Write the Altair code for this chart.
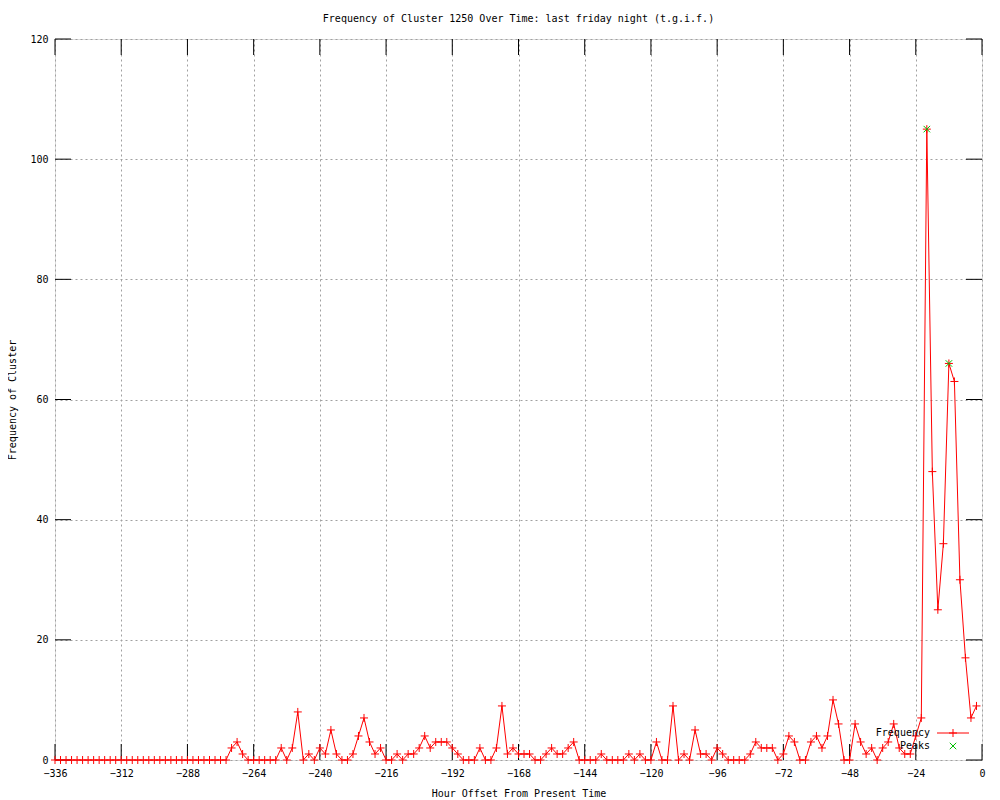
import altair as alt
import pandas as pd

# ---- data ----
hours = [
    -336, -334, -332, -330, -328, -326, -324, -322, -320, -318, -316, -314,
    -312, -310, -308, -306, -304, -302, -300, -298, -296, -294, -292, -290,
    -288, -286, -284, -282, -280, -278, -276, -274, -272, -270, -268, -266,
    -264, -262, -260, -258, -256, -254, -252, -250, -248, -246, -244, -242,
    -240, -238, -236, -234, -232, -230, -228, -226, -224, -222, -220, -218,
    -216, -214, -212, -210, -208, -206, -204, -202, -200, -198, -196, -194,
    -192, -190, -188, -186, -184, -182, -180, -178, -176, -174, -172, -170,
    -168, -166, -164, -162, -160, -158, -156, -154, -152, -150, -148, -146,
    -144, -142, -140, -138, -136, -134, -132, -130, -128, -126, -124, -122,
    -120, -118, -116, -114, -112, -110, -108, -106, -104, -102, -100, -98,
    -96, -94, -92, -90, -88, -86, -84, -82, -80, -78, -76, -74,
    -72, -70, -68, -66, -64, -62, -60, -58, -56, -54, -52, -50,
    -48, -46, -44, -42, -40, -38, -36, -34, -32, -30, -28, -26,
    -24, -22, -20, -18, -16, -14, -12, -10, -8, -6, -4, -2,
]
frequency = [
    0, 0, 0, 0, 0, 0, 0, 0, 0, 0, 0, 0,
    0, 0, 0, 0, 0, 0, 0, 0, 0, 0, 0, 0,
    0, 0, 0, 0, 0, 0, 0, 0, 2, 3, 1, 0,
    0, 0, 0, 0, 0, 2, 0, 2, 8, 0, 1, 0,
    2, 1, 5, 1, 0, 0, 1, 4, 7, 3, 1, 2,
    0, 0, 1, 0, 1, 1, 2, 4, 2, 3, 3, 3,
    2, 1, 0, 0, 0, 2, 0, 0, 2, 9, 1, 2,
    1, 1, 1, 0, 0, 1, 2, 1, 1, 2, 3, 0,
    0, 0, 0, 1, 0, 0, 0, 0, 1, 0, 1, 0,
    0, 3, 0, 0, 9, 0, 1, 0, 5, 1, 1, 0,
    2, 1, 0, 0, 0, 0, 1, 3, 2, 2, 2, 0,
    1, 4, 3, 0, 0, 3, 4, 2, 4, 10, 6, 0,
    0, 6, 3, 1, 2, 0, 2, 3, 6, 2, 1, 1,
    4, 7, 105, 48, 25, 36, 66, 63, 30, 17, 7, 9,
]
peak_hours = [-20, -12]
peak_values = [105, 66]

x_ticks = [-336, -312, -288, -264, -240, -216, -192, -168, -144, -120, -96, -72, -48, -24, 0]
y_ticks = [0, 20, 40, 60, 80, 100, 120]

title_text = "Frequency of Cluster 1250 Over Time: last friday night (t.g.i.f.)"
x_title = "Hour Offset From Present Time"
y_title = "Frequency of Cluster"
legend_labels = ["Frequency", "Peaks"]

# ---- styling ----
FONT = "DejaVu Sans Mono"
W, H = 927, 721
TICK = 16
RED = "#ff0000"
GREEN = "#00c000"
PLUS = "M-1,0L1,0M0,-1L0,1"
XSYM = "M-1,-1L1,1M-1,1L1,-1"

df = pd.DataFrame({"hour": hours, "freq": frequency})
peaks = pd.DataFrame({"hour": peak_hours, "freq": peak_values})
xt = pd.DataFrame({"hour": x_ticks})
yt = pd.DataFrame({"freq": y_ticks})

x_scale = alt.Scale(domain=[-336, 0], nice=False, zero=False)
y_scale = alt.Scale(domain=[0, 120], nice=False, zero=False)

x_axis = alt.Axis(
    values=x_ticks, grid=True, gridColor="#a0a0a0", gridDash=[2, 3], gridWidth=1,
    ticks=False, domain=False, labelFont=FONT, labelFontSize=10, labelColor="black",
    labelPadding=8, labelFlush=False, labelOverlap=False, format="d",
    title=x_title, titleFont=FONT, titleFontSize=10, titleFontWeight="normal",
    titleColor="black", titleY=33, titleBaseline="middle",
)
y_axis = alt.Axis(
    values=y_ticks, grid=True, gridColor="#a0a0a0", gridDash=[2, 3], gridWidth=1,
    ticks=False, domain=False, labelFont=FONT, labelFontSize=10, labelColor="black",
    labelPadding=7, labelFlush=False, labelOverlap=False, format="d",
    title=y_title, titleFont=FONT, titleFontSize=10, titleFontWeight="normal",
    titleColor="black", titleX=-43, titleY=H / 2, titleAngle=270,
    titleAlign="center", titleBaseline="middle",
)

X = alt.X("hour:Q", scale=x_scale, axis=x_axis)
Y = alt.Y("freq:Q", scale=y_scale, axis=y_axis)

line = alt.Chart(df).mark_line(color=RED, strokeWidth=1).encode(x=X, y=Y)
pts = alt.Chart(df).mark_point(shape=PLUS, size=64, color=RED, filled=False,
                               strokeWidth=1, opacity=1).encode(x=X, y=Y)
pk = alt.Chart(peaks).mark_point(shape=XSYM, size=42, color=GREEN, filled=False,
                                 strokeWidth=1, opacity=1).encode(x=X, y=Y)

# inward (mirrored) tick marks
xt_bottom = alt.Chart(xt).mark_rule(color="black", strokeWidth=1).encode(
    x=X, y=alt.value(H), y2=alt.value(H - TICK))
xt_top = alt.Chart(xt).mark_rule(color="black", strokeWidth=1).encode(
    x=X, y=alt.value(0), y2=alt.value(TICK))
yt_left = alt.Chart(yt).mark_rule(color="black", strokeWidth=1).encode(
    y=Y, x=alt.value(0), x2=alt.value(TICK))
yt_right = alt.Chart(yt).mark_rule(color="black", strokeWidth=1).encode(
    y=Y, x=alt.value(W), x2=alt.value(W - TICK))

# legend (gnuplot style: label on the left, sample on the right)
leg = pd.DataFrame({"label": legend_labels})
LX, LY1, LY2 = 875, 694, 707
leg_text1 = alt.Chart(leg.iloc[[0]]).mark_text(
    align="right", baseline="middle", font=FONT, fontSize=10, color="black"
).encode(text="label:N", x=alt.value(LX), y=alt.value(LY1))
leg_text2 = alt.Chart(leg.iloc[[1]]).mark_text(
    align="right", baseline="middle", font=FONT, fontSize=10, color="black"
).encode(text="label:N", x=alt.value(LX), y=alt.value(LY2))
leg_line = alt.Chart(leg.iloc[[0]]).mark_rule(color=RED, strokeWidth=1).encode(
    x=alt.value(882), x2=alt.value(914), y=alt.value(LY1))
leg_pt = alt.Chart(leg.iloc[[0]]).mark_point(
    shape=PLUS, size=64, color=RED, filled=False, strokeWidth=1, opacity=1
).encode(x=alt.value(898), y=alt.value(LY1))
leg_x = alt.Chart(leg.iloc[[1]]).mark_point(
    shape=XSYM, size=42, color=GREEN, filled=False, strokeWidth=1, opacity=1
).encode(x=alt.value(898), y=alt.value(LY2))

chart = alt.layer(
    xt_bottom, xt_top, yt_left, yt_right,
    line, pts, pk,
    leg_text1, leg_text2, leg_line, leg_pt, leg_x,
).properties(
    width=W, height=H,
    title=alt.TitleParams(title_text, font=FONT, fontSize=10, fontWeight="normal",
                          color="black", anchor="middle", offset=10),
    padding={"left": 47, "top": 31, "right": 10, "bottom": 39},
    autosize=alt.AutoSizeParams(type="none"),
).configure_view(
    stroke="black", strokeWidth=1
).configure(background="white")

chart.save("out.html", embed_options={"renderer": "svg", "actions": False})
